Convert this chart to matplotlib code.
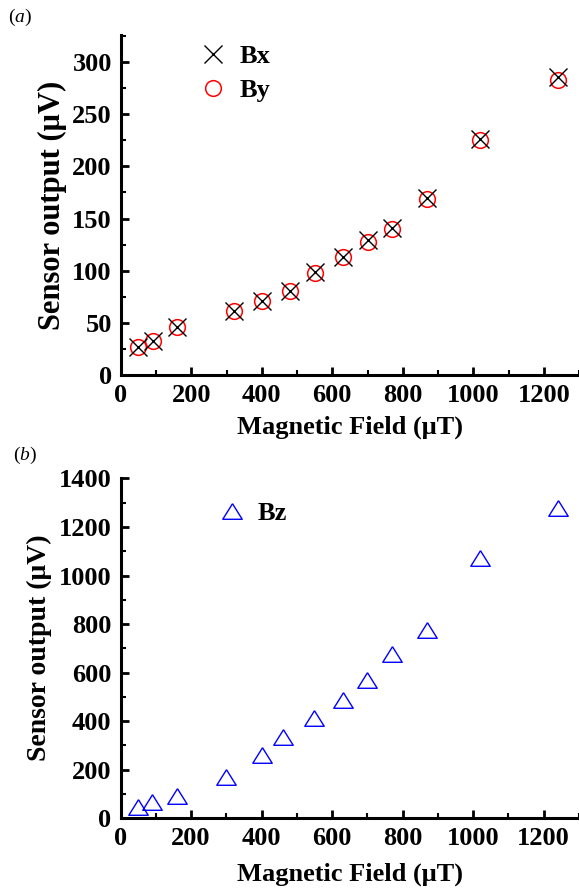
import matplotlib
matplotlib.use("Agg")
import matplotlib.pyplot as plt
from matplotlib.ticker import MultipleLocator

plt.rcParams['font.family'] = ['Liberation Serif', 'DejaVu Serif']
plt.rcParams['mathtext.fontset'] = 'custom'
plt.rcParams['mathtext.rm'] = 'Liberation Serif'
plt.rcParams['mathtext.it'] = 'Liberation Serif:italic'

# Data
field_xy = [50, 90, 160, 320, 400, 480, 550, 630, 700, 770, 870, 1020, 1240]
bx = [27, 33, 46, 61, 71, 81, 99, 113, 129, 141, 170, 226, 286]
by = [27, 33, 46, 61, 71, 81, 98, 113, 128, 140, 169, 225, 283]

field_z = [50, 90, 160, 300, 400, 460, 550, 630, 700, 770, 870, 1020, 1240]
bz = [48, 66, 92, 172, 261, 337, 413, 486, 571, 676, 777, 1072, 1279]

xlabel = "Magnetic Field (\u03bcT)"
ylabel = "Sensor output (\u03bcV)"

fig = plt.figure(figsize=(5.79, 8.93), dpi=100)
W, H = 579, 893
ax1 = fig.add_axes([120.8 / W, 1 - 375 / H, (579 - 120.8) / W, (375 - 35) / H])
ax2 = fig.add_axes([120.5 / W, 1 - 818.3 / H, (579 - 120.5) / W, (818.3 - 478) / H])

tri = [(0, 0.8), (-1, -0.8), (1, -0.8), (0, 0.8)]

ax1.plot(field_xy, bx, linestyle='none', marker='x', ms=12.5, mew=1.0, color='black', label='Bx', zorder=3)
ax1.plot(field_xy, by, linestyle='none', marker='o', ms=11.3, mew=1.1, mfc='none', mec='red', label='By', zorder=2)
ax2.plot(field_z, bz, linestyle='none', marker=tri, ms=14, mew=1.0, mfc='none', mec='blue', label='Bz')

ax1.set_xlim(0, 1300)
ax1.set_ylim(0, 326)
ax2.set_xlim(0, 1300)
ax2.set_ylim(0, 1402)

ax1.yaxis.set_major_locator(MultipleLocator(50))
ax1.yaxis.set_minor_locator(MultipleLocator(25))
ax2.yaxis.set_major_locator(MultipleLocator(200))
ax2.yaxis.set_minor_locator(MultipleLocator(100))

FS = 19
for ax in (ax1, ax2):
    ax.xaxis.set_major_locator(MultipleLocator(200))
    ax.xaxis.set_minor_locator(MultipleLocator(100))
    for s in ('top', 'right'):
        ax.spines[s].set_visible(False)
    for s in ('left', 'bottom'):
        ax.spines[s].set_linewidth(2.2)
    ax.tick_params(which='major', direction='in', length=6, width=2, labelsize=FS, pad=6.5)
    ax.tick_params(which='minor', direction='in', length=3.5, width=1.5)
    for lab in ax.get_xticklabels() + ax.get_yticklabels():
        lab.set_fontweight('bold')

ax1.set_xlabel(xlabel, fontsize=FS, fontweight='bold', labelpad=6)
ax1.set_ylabel(ylabel, fontsize=22, fontweight='bold', labelpad=4)
ax2.set_xlabel(xlabel, fontsize=FS, fontweight='bold', labelpad=9)
ax2.set_ylabel(ylabel, fontsize=20, fontweight='bold', labelpad=5)

fig.legend(handles=ax1.get_lines(), loc='upper left', bbox_to_anchor=(197 / W, 1 - 45 / H),
           bbox_transform=fig.transFigure, frameon=False,
           prop={'weight': 'bold', 'size': FS}, handletextpad=0.42, labelspacing=0.38,
           handlelength=1.2, borderpad=0, borderaxespad=0)
fig.legend(handles=ax2.get_lines(), loc='upper left', bbox_to_anchor=(216 / W, 1 - 502 / H),
           bbox_transform=fig.transFigure, frameon=False,
           prop={'weight': 'bold', 'size': FS}, handletextpad=0.38,
           handlelength=1.2, borderpad=0, borderaxespad=0)

fig.text(8 / W, 1 - 17 / H, r"$(\mathit{a})$", fontsize=14, va='center', ha='left')
fig.text(13 / W, 1 - 455 / H, r"$(\mathit{b})$", fontsize=14, va='center', ha='left')

fig.savefig("out.png", dpi=100)
